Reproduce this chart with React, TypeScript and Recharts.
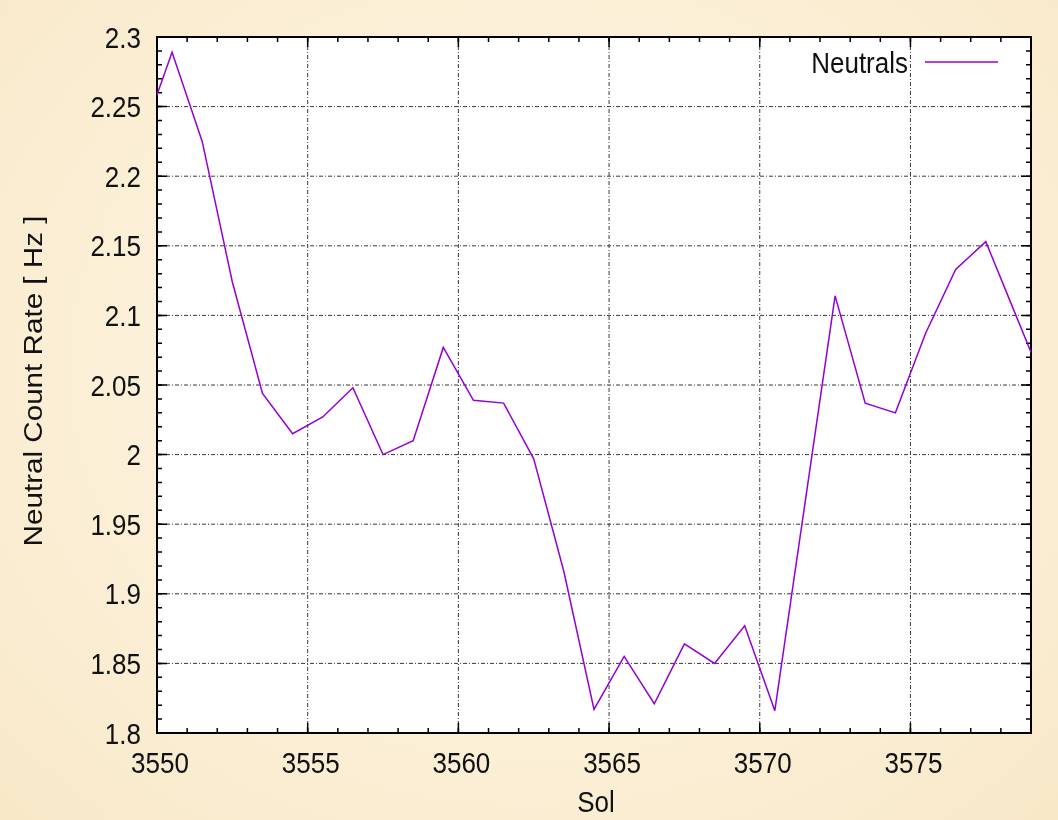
import React from "react";
import {
  LineChart,
  Line,
  XAxis,
  YAxis,
  CartesianGrid,
  Legend,
  Label,
} from "recharts";

// Sol (day) centres of each sample, and the neutral count rate in Hz
const SOL = [
  3549.5, 3550.5, 3551.5, 3552.5, 3553.5, 3554.5, 3555.5, 3556.5, 3557.5,
  3558.5, 3559.5, 3560.5, 3561.5, 3562.5, 3563.5, 3564.5, 3565.5, 3566.5,
  3567.5, 3568.5, 3569.5, 3570.5, 3571.5, 3572.5, 3573.5, 3574.5, 3575.5,
  3576.5, 3577.5, 3578.5, 3579.5,
];
const RATE = [
  2.228, 2.289, 2.225, 2.124, 2.044, 2.015, 2.027, 2.048, 2.0, 2.01, 2.077,
  2.039, 2.037, 1.997, 1.916, 1.817, 1.855, 1.821, 1.864, 1.85, 1.877, 1.816,
  1.965, 2.114, 2.037, 2.03, 2.087, 2.133, 2.153, 2.1, 2.047,
];

const X_TICKS = [3550, 3555, 3560, 3565, 3570, 3575];
const Y_TICKS = [1.8, 1.85, 1.9, 1.95, 2, 2.05, 2.1, 2.15, 2.2, 2.25, 2.3];
const X_DOMAIN: [number, number] = [3550, 3579];
const Y_DOMAIN: [number, number] = [1.8, 2.3];

// minor ticks every 1 sol / 0.01 Hz (inside the frame only)
const X_MINOR = Array.from({ length: 28 }, (_, i) => 3551 + i);
const Y_MINOR = Array.from({ length: 49 }, (_, i) => Math.round((1.81 + i * 0.01) * 100) / 100);

const data = SOL.map((s, i) => ({ sol: s, rate: RATE[i] }));

const W = 1058;
const H = 820;
const MARGIN = { top: 37, right: 27, bottom: 0, left: 0 };
const Y_AXIS_W = 157;
const X_AXIS_H = 87;
const PLOT_W = W - MARGIN.left - MARGIN.right - Y_AXIS_W;
const PLOT_H = H - MARGIN.top - MARGIN.bottom - X_AXIS_H;

const FONT = "'Liberation Sans', Arial, Helvetica, sans-serif";
const LINE_COLOR = "#9400d3";
const MAJ = 10;
const MIN = 5;

// dash pattern that only paints both ends of a grid line -> inward tick marks
const tickDash = (len: number, t: number) => `${t} ${len - 2 * t} ${t} 0`;

const BottomTick = (props: any) => {
  const { x, y, payload } = props;
  return (
    <text
      transform={`translate(${x + 3},${y + 40}) scale(1,1.12)`}
      textAnchor="middle"
      fontSize={26}
      fontFamily={FONT}
      fill="#111"
    >
      {payload.value}
    </text>
  );
};

const LeftTick = (props: any) => {
  const { x, y, payload } = props;
  return (
    <text
      transform={`translate(${x - 16},${y + 10.5}) scale(1,1.12)`}
      textAnchor="end"
      fontSize={26}
      fontFamily={FONT}
      fill="#111"
    >
      {String(payload.value)}
    </text>
  );
};

const LegendBox = (props: any) => {
  const item = props.payload && props.payload[0];
  if (!item) return null;
  return (
    <svg width={240} height={40}>
      <text
        transform="translate(128,33) scale(1,1.12)"
        textAnchor="end"
        fontSize={26}
        fontFamily={FONT}
        fill="#111"
      >
        {item.value}
      </text>
      <line x1={145} x2={218} y1={22} y2={22} stroke={LINE_COLOR} strokeWidth={1.5} />
    </svg>
  );
};

const App: React.FC = () => {
  return (
    <div
      style={{
        position: "fixed",
        left: 0,
        top: 0,
        width: W,
        height: H,
        background: "radial-gradient(ellipse at 50% 45%, #fdf5e4 0%, #fbefd6 60%, #f8e8c8 100%)",
      }}
    >
      {/* white plot background with the black frame, behind the transparent svg */}
      <div
        style={{
          position: "absolute",
          boxSizing: "border-box",
          left: MARGIN.left + Y_AXIS_W - 1,
          top: MARGIN.top - 1,
          width: PLOT_W + 2,
          height: PLOT_H + 2,
          background: "#ffffff",
          border: "2px solid #000",
        }}
      />
      <LineChart width={W} height={H} data={data} margin={MARGIN}>
        {/* dotted major grid */}
        <CartesianGrid
          stroke="#3a3a3a"
          strokeDasharray="4 2 1 2"
          strokeWidth={1}
          verticalValues={X_TICKS.slice(1)}
          horizontalValues={Y_TICKS.slice(1, -1)}
        />
        {/* minor tick marks on all four sides */}
        <CartesianGrid
          horizontal={false}
          stroke="#000"
          strokeWidth={1.5}
          strokeDasharray={tickDash(PLOT_H, MIN)}
          verticalValues={X_MINOR}
        />
        <CartesianGrid
          vertical={false}
          stroke="#000"
          strokeWidth={1.5}
          strokeDasharray={tickDash(PLOT_W, MIN)}
          horizontalValues={Y_MINOR}
        />
        {/* major tick marks */}
        <CartesianGrid
          horizontal={false}
          stroke="#000"
          strokeWidth={1.5}
          strokeDasharray={tickDash(PLOT_H, MAJ)}
          verticalValues={X_TICKS.slice(1)}
        />
        <CartesianGrid
          vertical={false}
          stroke="#000"
          strokeWidth={1.5}
          strokeDasharray={tickDash(PLOT_W, MAJ)}
          horizontalValues={Y_TICKS.slice(1, -1)}
        />
        <XAxis
          dataKey="sol"
          type="number"
          domain={X_DOMAIN}
          allowDataOverflow
          ticks={X_TICKS}
          interval={0}
          height={X_AXIS_H}
          tickSize={0}
          tickMargin={0}
          tickLine={false}
          axisLine={false}
          tick={<BottomTick />}
        >
          <Label
            content={(p: any) => {
              const vb = p.viewBox;
              return (
                <text
                  transform={`translate(${vb.x + vb.width / 2 + 2},${vb.y + 79}) scale(1,1.12)`}
                  textAnchor="middle"
                  fontSize={26}
                  fontFamily={FONT}
                  fill="#111"
                >
                  Sol
                </text>
              );
            }}
          />
        </XAxis>
        <YAxis
          type="number"
          domain={Y_DOMAIN}
          allowDataOverflow
          ticks={Y_TICKS}
          interval={0}
          width={Y_AXIS_W}
          tickSize={0}
          tickMargin={0}
          tickLine={false}
          axisLine={false}
          tick={<LeftTick />}
        >
          <Label
            content={(p: any) => {
              const vb = p.viewBox;
              return (
                <text
                  transform={`translate(42,${vb.y + vb.height / 2 - 4}) rotate(-90) scale(1.14,1)`}
                  textAnchor="middle"
                  fontSize={26}
                  fontFamily={FONT}
                  fill="#111"
                >
                  Neutral Count Rate [ Hz ]
                </text>
              );
            }}
          />
        </YAxis>
        <Legend
          layout="horizontal"
          verticalAlign="middle"
          align="center"
          wrapperStyle={{ left: 780, top: 40, width: 240, height: 40 }}
          content={<LegendBox />}
        />
        <Line
          type="linear"
          dataKey="rate"
          name="Neutrals"
          stroke={LINE_COLOR}
          strokeWidth={1.5}
          dot={false}
          activeDot={false}
          isAnimationActive={false}
        />
      </LineChart>
    </div>
  );
};

export default App;
